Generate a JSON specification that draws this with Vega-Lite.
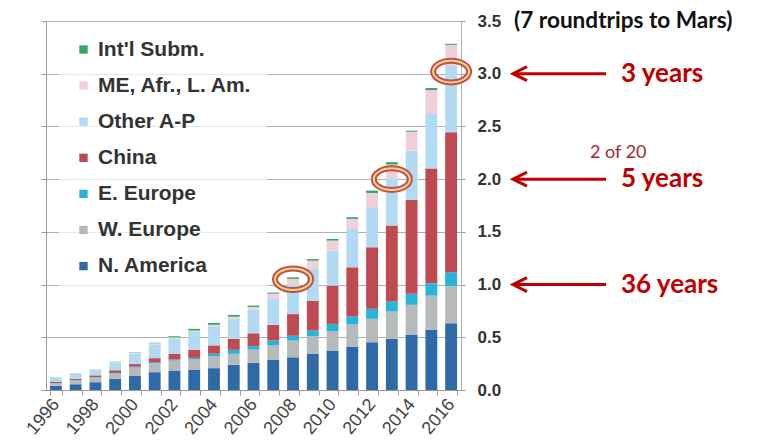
{
  "$schema": "https://vega.github.io/schema/vega-lite/v6.json",
  "background": "white",
  "padding": {"top": 10, "left": 23, "right": 0, "bottom": 0},
  "spacing": 5,
  "datasets": {
    "bw": [
      {"year": "1996", "region": "N. America", "v": 0.040}, {"year": "1996", "region": "W. Europe", "v": 0.022}, {"year": "1996", "region": "E. Europe", "v": 0.004}, {"year": "1996", "region": "China", "v": 0.010}, {"year": "1996", "region": "Other A-P", "v": 0.042}, {"year": "1996", "region": "ME, Afr., L. Am.", "v": 0.003}, {"year": "1996", "region": "Int'l Subm.", "v": 0.001},
      {"year": "1997", "region": "N. America", "v": 0.054}, {"year": "1997", "region": "W. Europe", "v": 0.036}, {"year": "1997", "region": "E. Europe", "v": 0.005}, {"year": "1997", "region": "China", "v": 0.012}, {"year": "1997", "region": "Other A-P", "v": 0.045}, {"year": "1997", "region": "ME, Afr., L. Am.", "v": 0.003}, {"year": "1997", "region": "Int'l Subm.", "v": 0.001},
      {"year": "1998", "region": "N. America", "v": 0.074}, {"year": "1998", "region": "W. Europe", "v": 0.044}, {"year": "1998", "region": "E. Europe", "v": 0.005}, {"year": "1998", "region": "China", "v": 0.016}, {"year": "1998", "region": "Other A-P", "v": 0.050}, {"year": "1998", "region": "ME, Afr., L. Am.", "v": 0.004}, {"year": "1998", "region": "Int'l Subm.", "v": 0.001},
      {"year": "1999", "region": "N. America", "v": 0.106}, {"year": "1999", "region": "W. Europe", "v": 0.050}, {"year": "1999", "region": "E. Europe", "v": 0.006}, {"year": "1999", "region": "China", "v": 0.025}, {"year": "1999", "region": "Other A-P", "v": 0.075}, {"year": "1999", "region": "ME, Afr., L. Am.", "v": 0.006}, {"year": "1999", "region": "Int'l Subm.", "v": 0.002},
      {"year": "2000", "region": "N. America", "v": 0.137}, {"year": "2000", "region": "W. Europe", "v": 0.076}, {"year": "2000", "region": "E. Europe", "v": 0.008}, {"year": "2000", "region": "China", "v": 0.025}, {"year": "2000", "region": "Other A-P", "v": 0.100}, {"year": "2000", "region": "ME, Afr., L. Am.", "v": 0.009}, {"year": "2000", "region": "Int'l Subm.", "v": 0.003},
      {"year": "2001", "region": "N. America", "v": 0.169}, {"year": "2001", "region": "W. Europe", "v": 0.085}, {"year": "2001", "region": "E. Europe", "v": 0.010}, {"year": "2001", "region": "China", "v": 0.038}, {"year": "2001", "region": "Other A-P", "v": 0.130}, {"year": "2001", "region": "ME, Afr., L. Am.", "v": 0.012}, {"year": "2001", "region": "Int'l Subm.", "v": 0.004},
      {"year": "2002", "region": "N. America", "v": 0.185}, {"year": "2002", "region": "W. Europe", "v": 0.094}, {"year": "2002", "region": "E. Europe", "v": 0.010}, {"year": "2002", "region": "China", "v": 0.054}, {"year": "2002", "region": "Other A-P", "v": 0.147}, {"year": "2002", "region": "ME, Afr., L. Am.", "v": 0.010}, {"year": "2002", "region": "Int'l Subm.", "v": 0.010},
      {"year": "2003", "region": "N. America", "v": 0.194}, {"year": "2003", "region": "W. Europe", "v": 0.100}, {"year": "2003", "region": "E. Europe", "v": 0.011}, {"year": "2003", "region": "China", "v": 0.076}, {"year": "2003", "region": "Other A-P", "v": 0.170}, {"year": "2003", "region": "ME, Afr., L. Am.", "v": 0.013}, {"year": "2003", "region": "Int'l Subm.", "v": 0.016},
      {"year": "2004", "region": "N. America", "v": 0.207}, {"year": "2004", "region": "W. Europe", "v": 0.111}, {"year": "2004", "region": "E. Europe", "v": 0.026}, {"year": "2004", "region": "China", "v": 0.079}, {"year": "2004", "region": "Other A-P", "v": 0.180}, {"year": "2004", "region": "ME, Afr., L. Am.", "v": 0.016}, {"year": "2004", "region": "Int'l Subm.", "v": 0.017},
      {"year": "2005", "region": "N. America", "v": 0.239}, {"year": "2005", "region": "W. Europe", "v": 0.104}, {"year": "2005", "region": "E. Europe", "v": 0.038}, {"year": "2005", "region": "China", "v": 0.104}, {"year": "2005", "region": "Other A-P", "v": 0.190}, {"year": "2005", "region": "ME, Afr., L. Am.", "v": 0.020}, {"year": "2005", "region": "Int'l Subm.", "v": 0.017},
      {"year": "2006", "region": "N. America", "v": 0.258}, {"year": "2006", "region": "W. Europe", "v": 0.126}, {"year": "2006", "region": "E. Europe", "v": 0.031}, {"year": "2006", "region": "China", "v": 0.123}, {"year": "2006", "region": "Other A-P", "v": 0.225}, {"year": "2006", "region": "ME, Afr., L. Am.", "v": 0.025}, {"year": "2006", "region": "Int'l Subm.", "v": 0.013},
      {"year": "2007", "region": "N. America", "v": 0.289}, {"year": "2007", "region": "W. Europe", "v": 0.133}, {"year": "2007", "region": "E. Europe", "v": 0.047}, {"year": "2007", "region": "China", "v": 0.149}, {"year": "2007", "region": "Other A-P", "v": 0.246}, {"year": "2007", "region": "ME, Afr., L. Am.", "v": 0.050}, {"year": "2007", "region": "Int'l Subm.", "v": 0.010},
      {"year": "2008", "region": "N. America", "v": 0.310}, {"year": "2008", "region": "W. Europe", "v": 0.158}, {"year": "2008", "region": "E. Europe", "v": 0.047}, {"year": "2008", "region": "China", "v": 0.205}, {"year": "2008", "region": "Other A-P", "v": 0.284}, {"year": "2008", "region": "ME, Afr., L. Am.", "v": 0.050}, {"year": "2008", "region": "Int'l Subm.", "v": 0.015},
      {"year": "2009", "region": "N. America", "v": 0.343}, {"year": "2009", "region": "W. Europe", "v": 0.167}, {"year": "2009", "region": "E. Europe", "v": 0.054}, {"year": "2009", "region": "China", "v": 0.284}, {"year": "2009", "region": "Other A-P", "v": 0.300}, {"year": "2009", "region": "ME, Afr., L. Am.", "v": 0.079}, {"year": "2009", "region": "Int'l Subm.", "v": 0.015},
      {"year": "2010", "region": "N. America", "v": 0.374}, {"year": "2010", "region": "W. Europe", "v": 0.183}, {"year": "2010", "region": "E. Europe", "v": 0.070}, {"year": "2010", "region": "China", "v": 0.363}, {"year": "2010", "region": "Other A-P", "v": 0.332}, {"year": "2010", "region": "ME, Afr., L. Am.", "v": 0.095}, {"year": "2010", "region": "Int'l Subm.", "v": 0.016},
      {"year": "2011", "region": "N. America", "v": 0.412}, {"year": "2011", "region": "W. Europe", "v": 0.209}, {"year": "2011", "region": "E. Europe", "v": 0.079}, {"year": "2011", "region": "China", "v": 0.464}, {"year": "2011", "region": "Other A-P", "v": 0.364}, {"year": "2011", "region": "ME, Afr., L. Am.", "v": 0.095}, {"year": "2011", "region": "Int'l Subm.", "v": 0.016},
      {"year": "2012", "region": "N. America", "v": 0.453}, {"year": "2012", "region": "W. Europe", "v": 0.222}, {"year": "2012", "region": "E. Europe", "v": 0.095}, {"year": "2012", "region": "China", "v": 0.584}, {"year": "2012", "region": "Other A-P", "v": 0.379}, {"year": "2012", "region": "ME, Afr., L. Am.", "v": 0.136}, {"year": "2012", "region": "Int'l Subm.", "v": 0.022},
      {"year": "2013", "region": "N. America", "v": 0.485}, {"year": "2013", "region": "W. Europe", "v": 0.259}, {"year": "2013", "region": "E. Europe", "v": 0.098}, {"year": "2013", "region": "China", "v": 0.718}, {"year": "2013", "region": "Other A-P", "v": 0.443}, {"year": "2013", "region": "ME, Afr., L. Am.", "v": 0.136}, {"year": "2013", "region": "Int'l Subm.", "v": 0.022},
      {"year": "2014", "region": "N. America", "v": 0.526}, {"year": "2014", "region": "W. Europe", "v": 0.282}, {"year": "2014", "region": "E. Europe", "v": 0.104}, {"year": "2014", "region": "China", "v": 0.891}, {"year": "2014", "region": "Other A-P", "v": 0.467}, {"year": "2014", "region": "ME, Afr., L. Am.", "v": 0.180}, {"year": "2014", "region": "Int'l Subm.", "v": 0.010},
      {"year": "2015", "region": "N. America", "v": 0.573}, {"year": "2015", "region": "W. Europe", "v": 0.322}, {"year": "2015", "region": "E. Europe", "v": 0.117}, {"year": "2015", "region": "China", "v": 1.090}, {"year": "2015", "region": "Other A-P", "v": 0.516}, {"year": "2015", "region": "ME, Afr., L. Am.", "v": 0.227}, {"year": "2015", "region": "Int'l Subm.", "v": 0.019},
      {"year": "2016", "region": "N. America", "v": 0.633}, {"year": "2016", "region": "W. Europe", "v": 0.351}, {"year": "2016", "region": "E. Europe", "v": 0.133}, {"year": "2016", "region": "China", "v": 1.327}, {"year": "2016", "region": "Other A-P", "v": 0.630}, {"year": "2016", "region": "ME, Afr., L. Am.", "v": 0.200}, {"year": "2016", "region": "Int'l Subm.", "v": 0.010}
    ],
    "regions": [
      {"region": "N. America", "stackPos": 1},
      {"region": "W. Europe", "stackPos": 2},
      {"region": "E. Europe", "stackPos": 3},
      {"region": "China", "stackPos": 4},
      {"region": "Other A-P", "stackPos": 5},
      {"region": "ME, Afr., L. Am.", "stackPos": 6},
      {"region": "Int'l Subm.", "stackPos": 7}
    ],
    "marks": [
      {"year": "2008", "v": 1.05},
      {"year": "2013", "v": 2.0},
      {"year": "2016", "v": 3.02}
    ],
    "spans": [
      {"level": 3, "label": "3 years"},
      {"level": 2, "label": "5 years"},
      {"level": 1, "label": "36 years"}
    ]
  },
  "hconcat": [
    {
      "width": 415,
      "height": 369,
      "layer": [
        {
          "data": {"name": "bw"},
          "transform": [
            {"lookup": "region", "from": {"data": {"name": "regions"}, "key": "region", "fields": ["stackPos"]}}
          ],
          "mark": {"type": "bar"},
          "encoding": {
            "x": {
              "field": "year",
              "type": "ordinal",
              "title": null,
              "scale": {"paddingInner": 0.4, "paddingOuter": 0.2},
              "axis": {
                "orient": "bottom",
                "domainColor": "#9a9a9a",
                "tickColor": "#9a9a9a",
                "tickBand": "extent",
                "tickSize": 5,
                "labelAngle": -50,
                "labelAlign": "right",
                "labelBaseline": "middle",
                "labelPadding": 6,
                "labelFont": "Liberation Sans",
                "labelFontSize": 18,
                "labelColor": "#444",
                "labelOverlap": false,
                "labelExpr": "parseInt(datum.value) % 2 === 0 ? datum.value : ''"
              }
            },
            "y": {
              "field": "v",
              "type": "quantitative",
              "aggregate": "sum",
              "stack": "zero",
              "title": null,
              "scale": {"domain": [0, 3.5], "nice": false},
              "axis": {
                "orient": "right",
                "values": [0, 0.5, 1, 1.5, 2, 2.5, 3, 3.5],
                "format": ".1f",
                "grid": true,
                "gridColor": "#aeb2b2",
                "gridWidth": 1,
                "domainColor": "#b0b0b0",
                "tickColor": "#9a9a9a",
                "tickSize": 4,
                "labelPadding": 12,
                "labelFont": "Liberation Sans",
                "labelFontWeight": "bold",
                "labelFontSize": 17,
                "labelColor": "#333"
              }
            },
            "order": {"field": "stackPos", "type": "quantitative", "sort": "ascending"},
            "color": {
              "field": "region",
              "type": "nominal",
              "scale": {
                "domain": ["N. America", "W. Europe", "E. Europe", "China", "Other A-P", "ME, Afr., L. Am.", "Int'l Subm."],
                "range": ["#2f6aa6", "#b6babb", "#29b3d8", "#be4a52", "#b3daf3", "#f1cfd8", "#33a862"]
              },
              "legend": {
                "orient": "none",
                "legendX": 13,
                "legendY": 4,
                "title": null,
                "values": ["Int'l Subm.", "ME, Afr., L. Am.", "Other A-P", "China", "E. Europe", "W. Europe", "N. America"],
                "symbolType": "square",
                "symbolSize": 70,
                "symbolStrokeWidth": 0,
                "labelFont": "Liberation Sans",
                "labelFontWeight": "bold",
                "labelFontSize": 21,
                "labelColor": "#333",
                "labelOffset": 4,
                "rowPadding": 14.1,
                "padding": 14,
                "fillColor": "rgba(255,255,255,0.7)"
              }
            }
          }
        },
        {
          "data": {"name": "marks"},
          "mark": {"type": "point", "shape": "M-1,0A1,0.6,0,1,1,1,0A1,0.6,0,1,1,-1,0Z", "size": 1300, "filled": false, "stroke": "#c0504d", "strokeWidth": 6, "opacity": 1},
          "encoding": {
            "x": {"field": "year", "type": "ordinal"},
            "y": {"field": "v", "type": "quantitative", "axis": null}
          }
        },
        {
          "data": {"name": "marks"},
          "mark": {"type": "point", "shape": "M-1,0A1,0.6,0,1,1,1,0A1,0.6,0,1,1,-1,0Z", "size": 1300, "filled": false, "stroke": "#f3d684", "strokeWidth": 2, "opacity": 1},
          "encoding": {
            "x": {"field": "year", "type": "ordinal"},
            "y": {"field": "v", "type": "quantitative", "axis": null}
          }
        },
        {
          "data": {"name": "marks"},
          "mark": {"type": "rule", "opacity": 0},
          "encoding": {
            "y": {
              "field": "v",
              "type": "quantitative",
              "axis": {
                "orient": "left",
                "values": [0, 0.5, 1, 1.5, 2, 2.5, 3, 3.5],
                "labels": false,
                "grid": false,
                "domainColor": "#9a9a9a",
                "tickColor": "#9a9a9a",
                "tickSize": 5,
                "title": null
              }
            }
          }
        }
      ],
      "resolve": {"axis": {"y": "independent"}}
    },
    {
      "width": 250,
      "height": 369,
      "data": {"name": "spans"},
      "encoding": {
        "y": {"field": "level", "type": "quantitative", "scale": {"domain": [0, 3.5], "nice": false}, "axis": null}
      },
      "layer": [
        {
          "mark": {"type": "rule", "color": "#c00000", "strokeWidth": 3},
          "encoding": {
            "x": {"datum": 2.8, "type": "quantitative", "scale": {"domain": [0, 100]}, "axis": null},
            "x2": {"datum": 40}
          }
        },
        {
          "mark": {"type": "point", "shape": "M1,-1L-1,0L1,1", "size": 196, "filled": false, "stroke": "#c00000", "strokeWidth": 3, "opacity": 1},
          "encoding": {
            "x": {"datum": 5.6, "type": "quantitative"}
          }
        },
        {
          "mark": {"type": "text", "align": "left", "baseline": "middle", "font": "Lato", "fontWeight": "bold", "fontSize": 26, "color": "#c00000"},
          "encoding": {
            "x": {"datum": 46, "type": "quantitative"},
            "text": {"field": "label"}
          }
        },
        {
          "data": {"values": [{"note": "(7 roundtrips to Mars)", "level": 3.5}]},
          "mark": {"type": "text", "align": "left", "baseline": "middle", "font": "Lato", "fontWeight": "bold", "fontSize": 22.6, "color": "#111"},
          "encoding": {
            "x": {"datum": 3.2, "type": "quantitative"},
            "text": {"field": "note"}
          }
        },
        {
          "data": {"values": [{"note": "2 of 20", "level": 2.25}]},
          "mark": {"type": "text", "align": "left", "baseline": "middle", "font": "Lato", "fontSize": 18, "color": "#a8282d"},
          "encoding": {
            "x": {"datum": 33.6, "type": "quantitative"},
            "text": {"field": "note"}
          }
        }
      ]
    }
  ],
  "config": {
    "view": {"stroke": null},
    "axis": {"domainWidth": 1, "tickWidth": 1}
  }
}
